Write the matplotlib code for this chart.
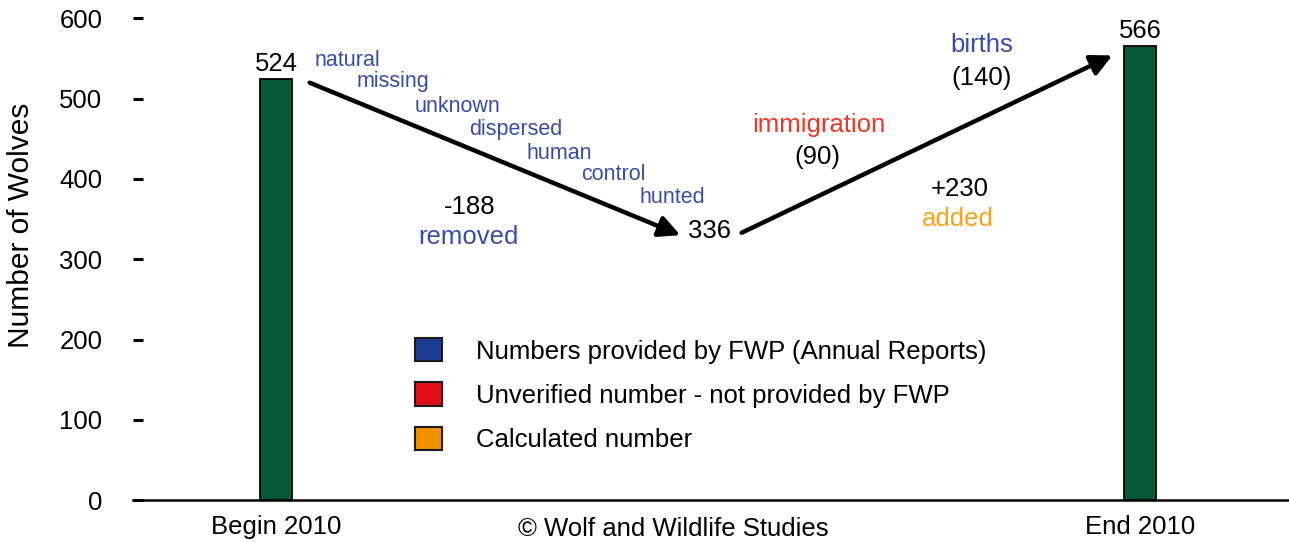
import matplotlib.pyplot as plt
from matplotlib.patches import Patch

plt.rcParams['font.family'] = ['Liberation Sans', 'DejaVu Sans']

# data
categories = ['Begin 2010', 'End 2010']
bar_values = [524, 566]
mid_value = 336
removed = -188
added = 230
immigration = 90
births = 140
removal_causes = ['natural', 'missing', 'unknown', 'dispersed', 'human', 'control', 'hunted']
legend_labels = ['Numbers provided by FWP (Annual Reports)',
                 'Unverified number - not provided by FWP',
                 'Calculated number']
legend_colors = ['#1f3c93', '#e0101a', '#f39200']

W, H = 1289, 542
fig = plt.figure(figsize=(W / 100, H / 100), dpi=100)
ax = fig.add_axes([133 / W, 42 / H, (W - 133) / W, 481.5 / H])

xpos = [0, 1]
mid_x = 0.5
bar_green = '#045834'
blue = '#3a4ca5'

ax.bar(xpos, bar_values, width=0.036, color=bar_green, edgecolor='black', linewidth=1.3, zorder=3)
ax.set_xlim(-0.1655, 1.1725)
ax.set_ylim(0, 600)

ax.set_yticks(range(0, 601, 100))
ax.tick_params(axis='y', direction='in', length=7, width=2.2, pad=22, labelsize=18.5)
ax.set_xticks(xpos)
ax.set_xticklabels(categories, fontsize=18.5)
ax.tick_params(axis='x', length=0, pad=11)
for s in ['left', 'top', 'right']:
    ax.spines[s].set_visible(False)
ax.spines['bottom'].set_linewidth(1.8)
ax.set_ylabel('Number of Wolves', fontsize=21.5)
ax.yaxis.set_label_coords(-0.085, 0.57)

# bar value labels
for x, v in zip(xpos, bar_values):
    ax.text(x, v + 4, str(v), ha='center', va='bottom', fontsize=18.5)
ax.text(mid_x + 0.002, mid_value - 1, str(mid_value), ha='center', va='center', fontsize=18.5)

# arrows
arrow = dict(arrowstyle='-|>', lw=3.2, color='black', mutation_scale=32, shrinkA=0, shrinkB=0)
ax.annotate('', xy=(mid_x - 0.032, mid_value - 6), xytext=(xpos[0] + 0.039, bar_values[0] - 4),
            arrowprops=arrow)
ax.annotate('', xy=(xpos[1] - 0.032, bar_values[1] - 12), xytext=(mid_x + 0.039, mid_value - 3),
            arrowprops=arrow)


def ftext(px, py, s, **kw):
    kw.setdefault('va', 'center')
    fig.text(px / W, 1 - py / H, s, ha='center', **kw)


# removal causes along the first arrow
cause_pos = [(347, 60), (393, 82), (457, 106), (516, 130), (559, 153), (613, 175), (672, 197)]
for (px, py), s in zip(cause_pos, removal_causes):
    ftext(px, py, s, fontsize=15.5, color=blue)

ftext(470, 207, str(removed), fontsize=18.5)
ftext(468, 237, 'removed', fontsize=18.5, color=blue)
ftext(819, 125, 'immigration', fontsize=18.5, color='#e8392b')
ftext(817, 157, '(%d)' % immigration, fontsize=18.5)
ftext(982, 45, 'births', fontsize=18.5, color=blue)
ftext(982, 78, '(%d)' % births, fontsize=18.5)
ftext(960, 189, '+%d' % added, fontsize=18.5)
ftext(958, 219, 'added', fontsize=18.5, color='#f7a21b')

# legend
handles = [Patch(facecolor=c, edgecolor='#1a1a1a', linewidth=1.5) for c in legend_colors]
fig.legend(handles, legend_labels, loc='upper left', bbox_to_anchor=(415 / W, 1 - 338 / H),
           frameon=False, fontsize=18.5, handlelength=1.06, handleheight=1.03,
           handletextpad=1.3, labelspacing=0.73, borderaxespad=0, borderpad=0)

ftext(673, 541, '\u00a9 Wolf and Wildlife Studies', fontsize=18.5, va='bottom')

fig.savefig('out.png', dpi=100)
